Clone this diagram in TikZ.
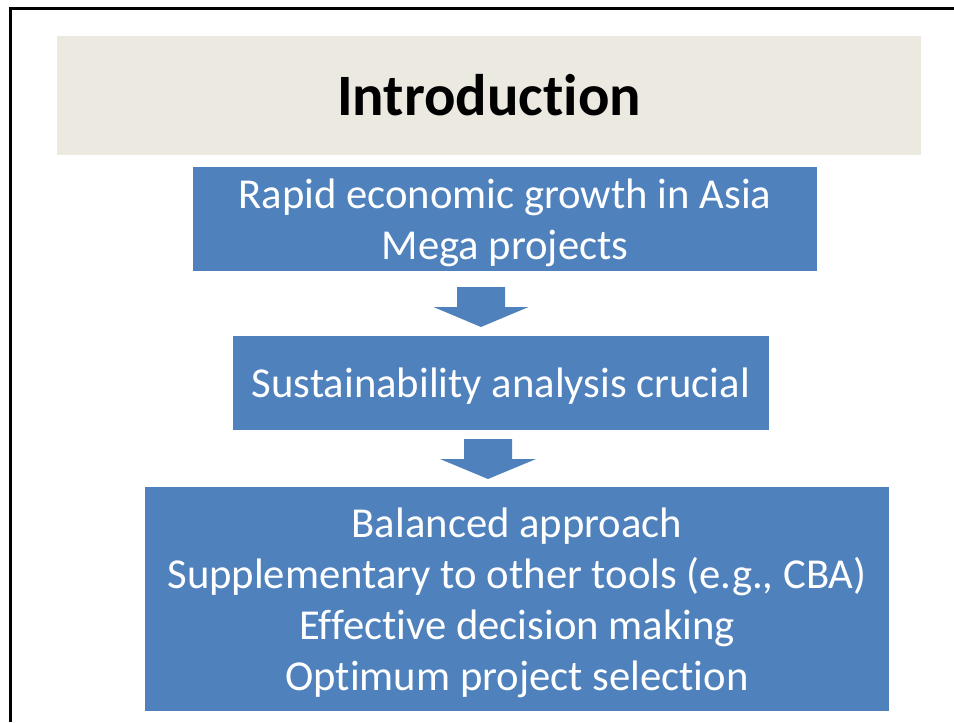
\documentclass[tikz,border=0pt]{standalone}
\usepackage{fontspec}
\setmainfont{Carlito}[Ligatures={NoCommon}]
\usepackage{tikz}
\definecolor{boxblue}{RGB}{79,129,189}
\definecolor{titlebeige}{RGB}{236,233,224}
\tikzstyle{frame}=[-,line width=2.25pt,draw=black]
\tikzstyle{titleband}=[rectangle,fill=titlebeige,draw=none,inner sep=0pt,font=\fontsize{44}{52}\selectfont\bfseries]
\tikzstyle{block}=[rectangle,fill=boxblue,draw=none,inner sep=0pt,text=white,align=center,text depth=0pt,font=\fontsize{32}{38.3}\selectfont]
\tikzstyle{downarrow}=[fill=boxblue,draw=none]

\begin{document}
\begin{tikzpicture}[x=0.75pt,y=-0.75pt]
	\useasboundingbox (0,0) rectangle (954,722);
	% slide frame (only top and left edges show)
	\coordinate (ftl) at (10,8);
	\coordinate (ftr) at (954,8);
	\coordinate (fbl) at (10,722);
	\draw [style=frame] (fbl) -- (ftl) -- (ftr);

	\node [style=titleband, minimum width=648pt, minimum height=89.25pt] (title) at (489,95.5) {Introduction};

	\node [style=block, minimum width=468pt, minimum height=78pt] (growth) at (505,219) {Rapid economic growth in Asia\\Mega projects};
	\node [style=block, minimum width=402pt, minimum height=70.5pt] (crucial) at (501,383) {Sustainability analysis crucial};
	\node [style=block, minimum width=558pt, minimum height=168pt] (approach) at (517,599) {Balanced approach\\Supplementary to other tools (e.g., CBA)\\Effective decision making\\Optimum project selection};

	% block arrows
	\coordinate (arrA) at (481,287);
	\coordinate (arrB) at (488,439);
	\fill [style=downarrow] (arrA) ++(-24,0) -- ++(48,0) -- ++(0,20) -- ++(23.5,0) -- ++(-47.5,20) -- ++(-47.5,-20) -- ++(23.5,0) -- cycle;
	\fill [style=downarrow] (arrB) ++(-24,0) -- ++(48,0) -- ++(0,20) -- ++(24,0) -- ++(-48,20) -- ++(-48,-20) -- ++(24,0) -- cycle;
\end{tikzpicture}
\end{document}
